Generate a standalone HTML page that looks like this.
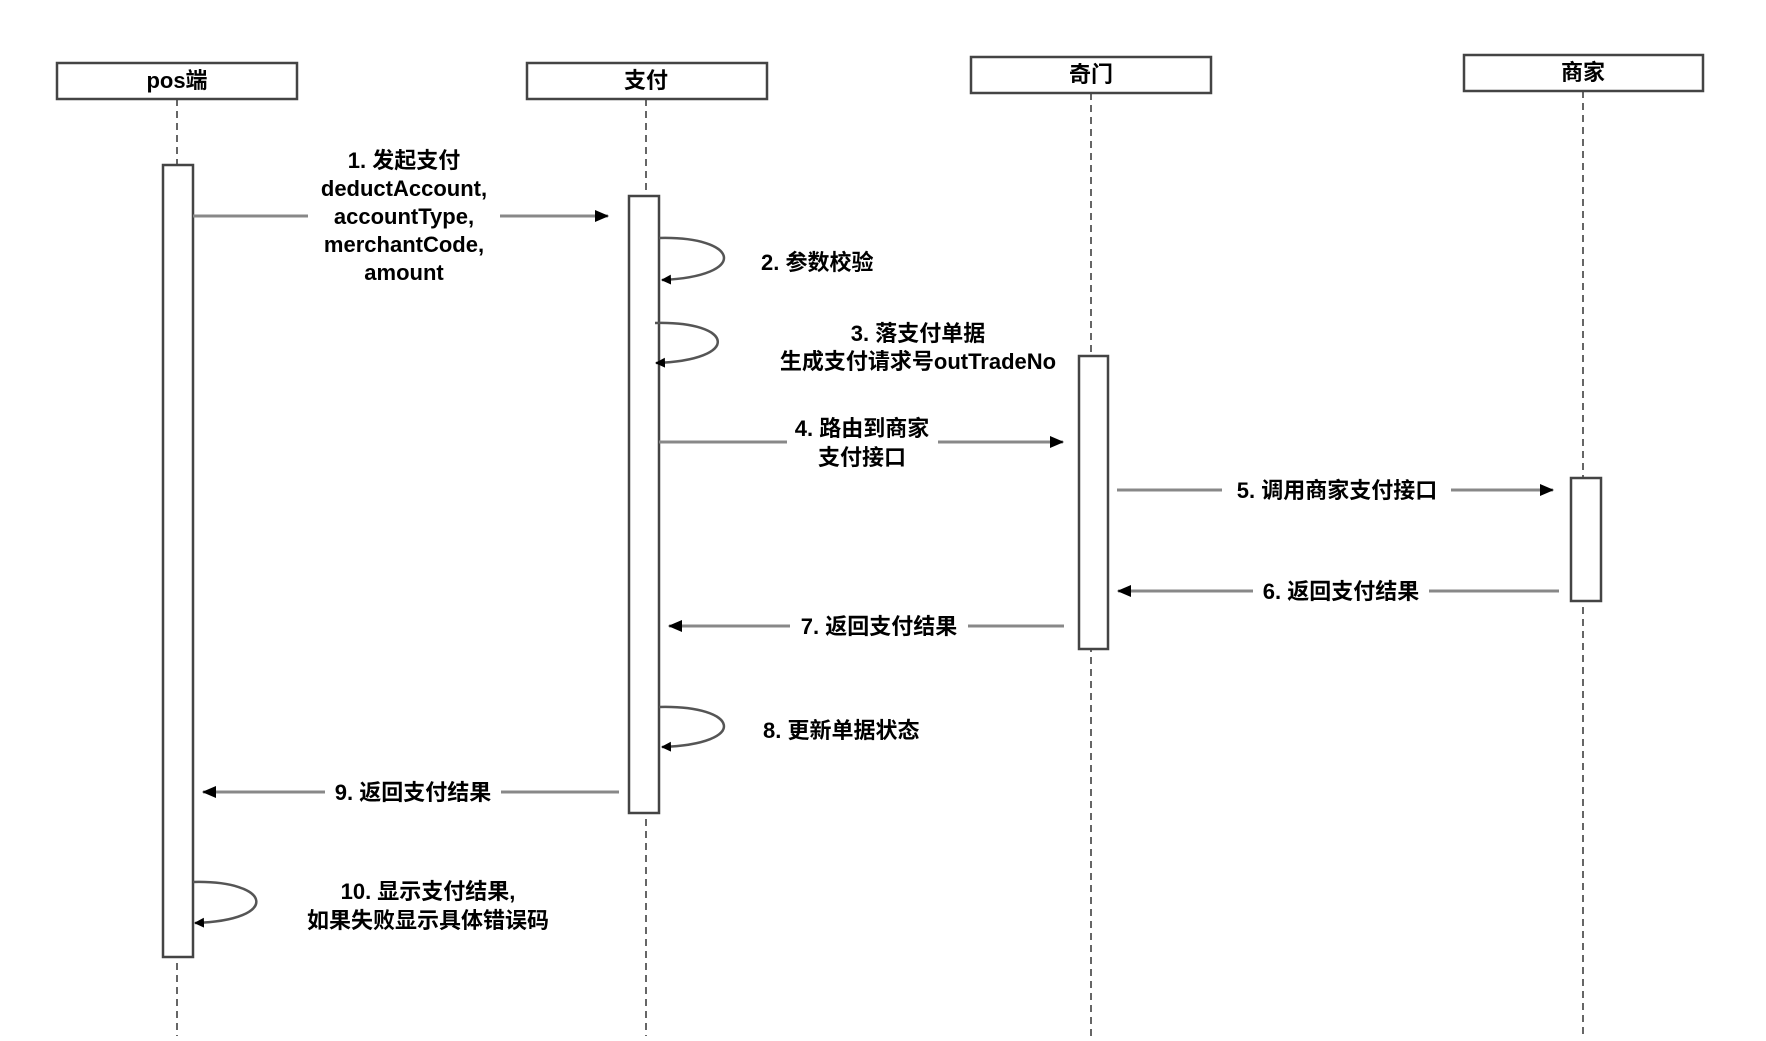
<!DOCTYPE html>
<html><head><meta charset="utf-8"><style>
html,body{margin:0;padding:0;background:#fff}
svg text{font-family:"Liberation Sans","Noto Sans CJK SC",sans-serif;font-weight:bold;font-size:22px;fill:#000}
</style></head><body>
<svg width="1766" height="1036" viewBox="0 0 1766 1036" xmlns="http://www.w3.org/2000/svg">
<defs>
<marker id="ah" markerWidth="10" markerHeight="10" refX="9" refY="5" orient="auto" markerUnits="userSpaceOnUse" viewBox="0 0 10 10">
<path d="M0,0 L10,5 L0,10 z" fill="#000"/></marker>
<marker id="ah2" markerWidth="14" markerHeight="14" refX="13" refY="7" orient="auto" markerUnits="userSpaceOnUse" viewBox="0 0 14 14">
<path d="M0,1 L14,7 L0,13 z" fill="#000"/></marker>
</defs>
<g stroke="#333" stroke-width="1.5" stroke-dasharray="7,5" fill="none">
<line x1="177" y1="99" x2="177" y2="1036"/>
<line x1="646" y1="99" x2="646" y2="1036"/>
<line x1="1091" y1="93" x2="1091" y2="1036"/>
<line x1="1583" y1="91" x2="1583" y2="1036"/>
</g>
<g fill="#fff" stroke="#444" stroke-width="2.5">
<rect x="57" y="63" width="240" height="36"/>
<rect x="527" y="63" width="240" height="36"/>
<rect x="971" y="57" width="240" height="36"/>
<rect x="1464" y="55" width="239" height="36"/>
<rect x="163" y="165" width="30" height="792"/>
<rect x="629" y="196" width="30" height="617"/>
<rect x="1079" y="356" width="29" height="293"/>
<rect x="1571" y="478" width="30" height="123"/>
</g>
<g font-size="22" text-anchor="middle">
<text x="177" y="88">pos端</text>
<text x="646" y="88">支付</text>
<text x="1091" y="82">奇门</text>
<text x="1583" y="80">商家</text>
</g>
<g stroke="#888" stroke-width="3" fill="none">
<line x1="193" y1="216" x2="308" y2="216"/>
<line x1="500" y1="216" x2="608" y2="216" marker-end="url(#ah2)"/>
<line x1="659" y1="442" x2="787" y2="442"/>
<line x1="938" y1="442" x2="1063" y2="442" marker-end="url(#ah2)"/>
<line x1="1117" y1="490" x2="1222" y2="490"/>
<line x1="1451" y1="490" x2="1553" y2="490" marker-end="url(#ah2)"/>
<line x1="1559" y1="591" x2="1429" y2="591"/>
<line x1="1253" y1="591" x2="1118" y2="591" marker-end="url(#ah2)"/>
<line x1="1064" y1="626" x2="968" y2="626"/>
<line x1="790" y1="626" x2="669" y2="626" marker-end="url(#ah2)"/>
<line x1="619" y1="792" x2="501" y2="792"/>
<line x1="325" y1="792" x2="203" y2="792" marker-end="url(#ah2)"/>
</g>
<g stroke="#555" stroke-width="2.5" fill="none">
<path d="M659,238 C740,236 750,276 662,280" marker-end="url(#ah)"/>
<path d="M655,323 C735,321 742,360 656,363" marker-end="url(#ah)"/>
<path d="M659,707 C740,705 750,744 662,747" marker-end="url(#ah)"/>
<path d="M193,882 C272,880 282,920 195,923" marker-end="url(#ah)"/>
</g>
<g text-anchor="middle">
<text x="404" y="168">1. 发起支付</text>
<text x="404" y="196">deductAccount,</text>
<text x="404" y="224">accountType,</text>
<text x="404" y="252">merchantCode,</text>
<text x="404" y="280">amount</text>
<text x="918" y="341">3. 落支付单据</text>
<text x="918" y="369">生成支付请求号outTradeNo</text>
<text x="862" y="436">4. 路由到商家</text>
<text x="862" y="465">支付接口</text>
<text x="1337" y="498">5.  调用商家支付接口</text>
<text x="1341" y="599">6. 返回支付结果</text>
<text x="879" y="634">7. 返回支付结果</text>
<text x="413" y="800">9. 返回支付结果</text>
<text x="428" y="899">10. 显示支付结果,</text>
<text x="428" y="928">如果失败显示具体错误码</text>
</g>
<text x="761" y="270">2. 参数校验</text>
<text x="763" y="738">8. 更新单据状态</text>
</svg>
</body></html>
